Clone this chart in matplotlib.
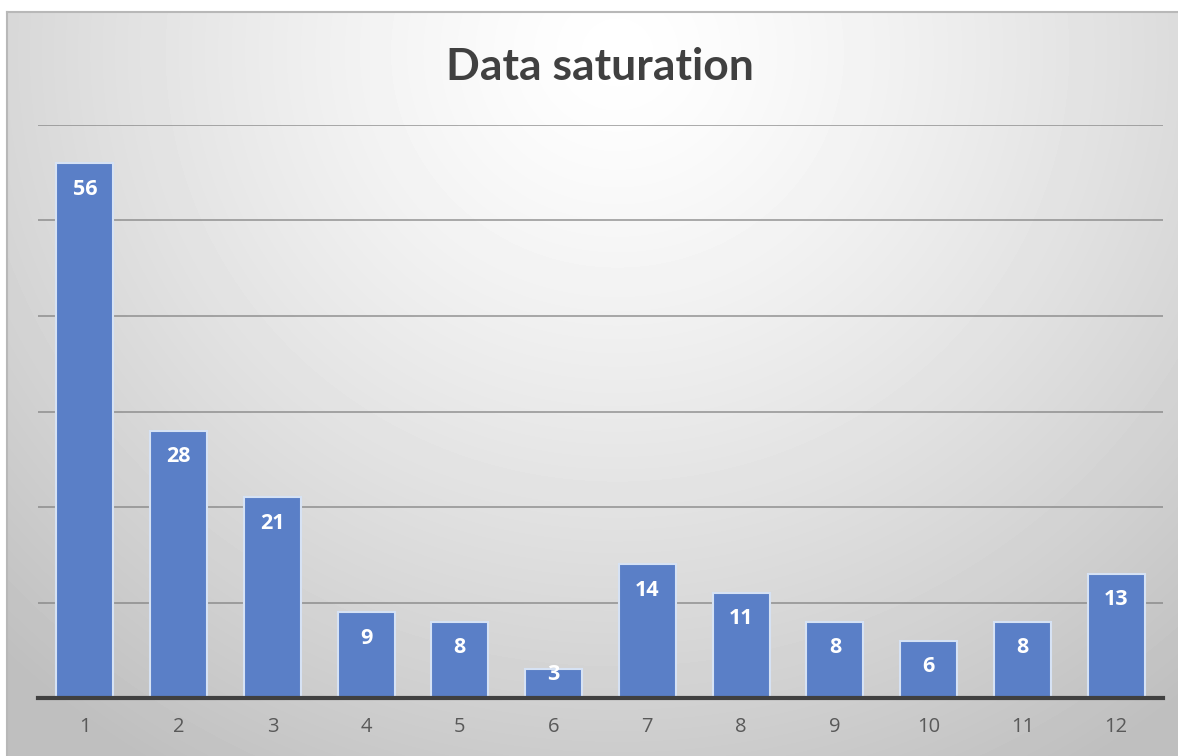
import numpy as np
import matplotlib.pyplot as plt

# survey rounds and count of new items found per round
rounds = ['1', '2', '3', '4', '5', '6', '7', '8', '9', '10', '11', '12']
counts = [56, 28, 21, 9, 8, 3, 14, 11, 8, 6, 8, 13]

W, H = 1178, 756
fig = plt.figure(figsize=(W / 100, H / 100), dpi=100)
fig.patch.set_facecolor('white')

# chart area with a soft radial gradient (light at top centre, grey at edges)
bg = fig.add_axes([7 / W, 0, 1 - 7 / W, 744 / H])
yy, xx = np.mgrid[0:744, 0:1171]
r = np.sqrt((xx - 610) ** 2 + ((yy - 40) / 0.95) ** 2)
shade = 255 - 64 * np.clip(r / 880, 0, 1) ** 1.3
bg.imshow(shade, cmap='gray', vmin=0, vmax=255, aspect='auto',
          extent=[0, 1, 0, 1], origin='upper')
bg.set_xlim(0, 1)
bg.set_ylim(0, 1)
bg.set_xticks([])
bg.set_yticks([])
for side in ['right', 'bottom']:
    bg.spines[side].set_visible(False)
for side in ['top', 'left']:
    bg.spines[side].set_color('#b8b8b8')
    bg.spines[side].set_linewidth(1.5)

ax = fig.add_axes([38 / W, 58 / H, 1125 / W, 573 / H])
ax.patch.set_alpha(0)
x = np.arange(len(rounds))
ax.bar(x, counts, width=0.61, color='#5a7fc7', edgecolor='#d6e2f4',
       linewidth=1.5, zorder=3)

for xi, v in zip(x, counts):
    ax.text(xi, max(v - 2.72, 2.41), str(v), ha='center', va='center',
            color='white', fontsize=15.5, fontweight='bold',
            family='Open Sans', zorder=4)

ax.set_xlim(-0.5, len(rounds) - 0.5)
ax.set_ylim(0, 60)
ax.set_yticks(np.arange(10, 61, 10))
ax.set_yticklabels([])
ax.tick_params(axis='y', length=0)
ax.grid(axis='y', color='#7f7f7f', linewidth=1.3, alpha=0.7, zorder=1)
ax.set_xticks(x)
ax.set_xticklabels(rounds, fontsize=14.5, color='#595959', family='Open Sans')
ax.tick_params(axis='x', length=0, pad=14)
for side in ['top', 'right', 'left']:
    ax.spines[side].set_visible(False)
ax.spines['bottom'].set_color('#404040')
ax.spines['bottom'].set_linewidth(3)
ax.spines['bottom'].set_zorder(5)

fig.text(600 / W, 1 - 80 / H, 'Data saturation', ha='center', va='baseline',
         fontsize=32, fontweight='bold', color='#404040', family='Lato')

fig.savefig('out.png', dpi=100)
